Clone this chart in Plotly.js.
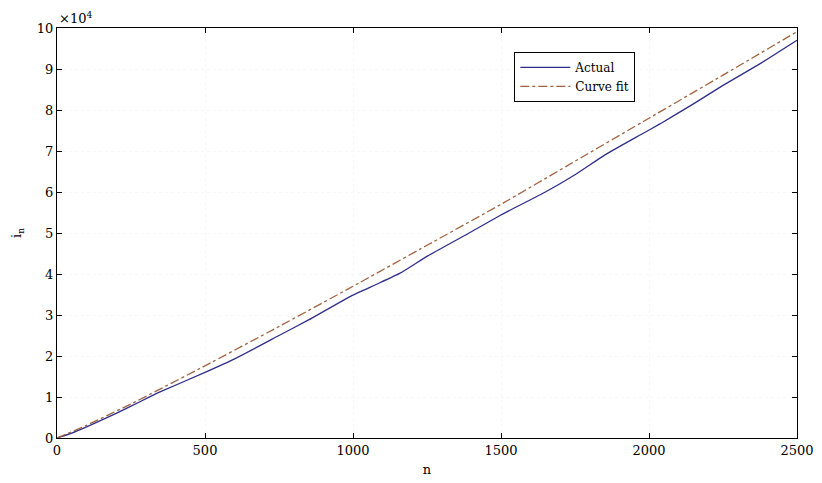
<!DOCTYPE html>
<html>
<head>
<meta charset="utf-8">
<script src="https://cdn.plot.ly/plotly-3.0.1.min.js"></script>
<style>
  html, body { margin: 0; padding: 0; background: #fff; }
  #plot { width: 822px; height: 483px; }
</style>
</head>
<body>
<div id="plot"></div>
<script>
// values (i_n)
const actualN = [0, 50, 100, 200, 280, 350, 500, 600, 750, 850, 990, 1080, 1159,
  1250, 1400, 1500, 1650, 1750, 1850, 1970, 2037, 2150, 2250, 2380, 2500];
const actualI = [0, 1200, 2700, 6000, 8850, 11300, 16000, 19300, 25000, 28800,
  34500, 37500, 40200, 44300, 50300, 54400, 60000, 64200, 69000, 73900, 76600,
  81500, 86000, 91500, 97000];

const fitN = [0, 100, 250, 500, 750, 1000, 1250, 1500, 1750, 2000, 2250, 2500];
const fitI = [0, 3100, 8300, 17600, 27200, 37000, 47000, 57000, 67500, 78000, 88500, 99100];

const yTicks = [0, 1, 2, 3, 4, 5, 6, 7, 8, 9, 10];
const xTicks = [0, 500, 1000, 1500, 2000, 2500];

const FONT = {family: 'DejaVu Serif, Liberation Serif, serif', size: 13, color: '#000'};

const traces = [
  {
    x: actualN, y: actualI, name: 'Actual', type: 'scatter', mode: 'lines',
    line: {color: '#2e2e8a', width: 1.3, shape: 'spline', smoothing: 0.4},
  },
  {
    x: fitN, y: fitI, name: 'Curve fit', type: 'scatter', mode: 'lines',
    line: {color: '#a0623f', width: 1.3, dash: 'dashdot', shape: 'spline', smoothing: 0.4},
  },
];

const axisBase = {
  showline: true, linecolor: '#000', linewidth: 1,
  mirror: 'ticks', ticks: 'inside', ticklen: 5, tickcolor: '#000',
  showgrid: true, gridcolor: '#f8f8f8', griddash: 'dot',
  zeroline: false,
};

const layout = {
  width: 822, height: 483,
  margin: {l: 57, r: 25, t: 28, b: 45},
  paper_bgcolor: '#fff', plot_bgcolor: '#fff',
  font: FONT,
  showlegend: true,
  legend: {
    x: 0.618, y: 0.942, xanchor: 'left', yanchor: 'top',
    bordercolor: '#000', borderwidth: 1, bgcolor: '#fff',
    font: {family: FONT.family, size: 12, color: '#000'},
    tracegroupgap: 0, itemwidth: 50,
  },
  xaxis: Object.assign({}, axisBase, {
    range: [0, 2500], tickvals: xTicks,
    title: {text: 'n', font: FONT, standoff: 8},
  }),
  yaxis: Object.assign({}, axisBase, {
    range: [0, 100000],
    tickvals: yTicks.map(v => v * 10000),
    ticktext: yTicks.map(String),
    title: {text: 'i<sub>n</sub>', font: FONT, standoff: 12},
  }),
  annotations: [{
    xref: 'paper', yref: 'paper', x: 0, y: 1, xanchor: 'left', yanchor: 'bottom',
    text: '\u00d710<sup>4</sup>', showarrow: false, font: FONT,
  }],
};

Plotly.newPlot('plot', traces, layout, {staticPlot: true});
</script>
</body>
</html>
